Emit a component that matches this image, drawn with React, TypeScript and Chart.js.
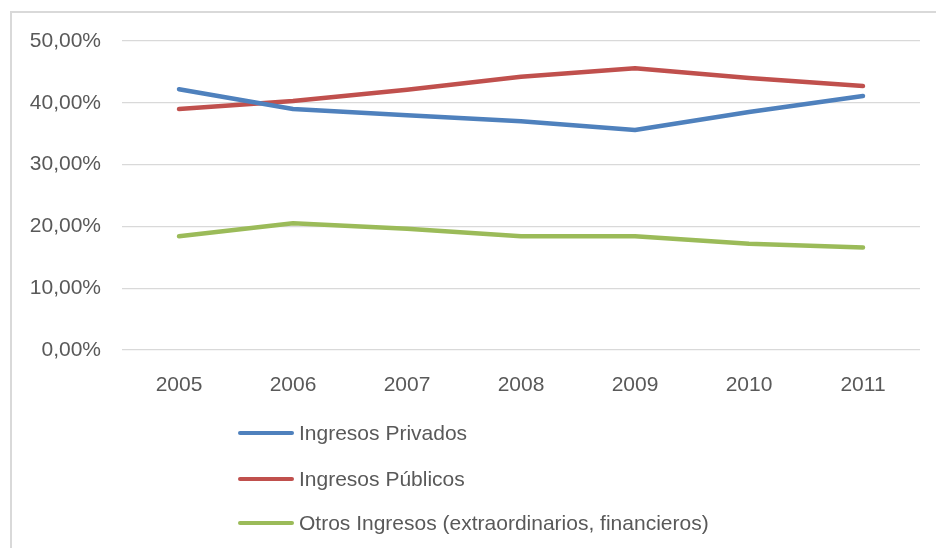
import React, { useEffect, useRef } from "react";
import { Chart, registerables } from "chart.js";

Chart.register(...registerables);

const years = ["2005", "2006", "2007", "2008", "2009", "2010", "2011"];
const privados = [42.2, 39.0, 38.0, 37.0, 35.6, 38.5, 41.1];
const publicos = [39.0, 40.3, 42.1, 44.2, 45.6, 44.0, 42.7];
const otros = [18.4, 20.5, 19.6, 18.4, 18.4, 17.2, 16.6];
const seriesNames = [
  "Ingresos Privados",
  "Ingresos Públicos",
  "Otros Ingresos (extraordinarios, financieros)",
];
const yTicks = [0, 10, 20, 30, 40, 50];

const FONT = "'Liberation Sans', Arial, sans-serif";
const TEXT = "#595959";

const legendPlugin = {
  id: "verticalLegend",
  afterDraw(chart: any) {
    const ctx = chart.ctx;
    const rows = [433, 479, 523];
    ctx.save();
    chart.data.datasets.forEach((ds: any, i: number) => {
      const y = rows[i];
      ctx.strokeStyle = ds.borderColor;
      ctx.lineWidth = 4;
      ctx.lineCap = "round";
      ctx.beginPath();
      ctx.moveTo(240, y);
      ctx.lineTo(292, y);
      ctx.stroke();
      ctx.fillStyle = TEXT;
      ctx.font = `21px ${FONT}`;
      ctx.textBaseline = "middle";
      ctx.textAlign = "left";
      ctx.fillText(ds.label, 299, y + 1);
    });
    ctx.restore();
  },
};

export default function App() {
  const ref = useRef<HTMLCanvasElement>(null);

  useEffect(() => {
    if (!ref.current) return;
    const mk = (label: string, data: number[], color: string) => ({
      label,
      data,
      borderColor: color,
      backgroundColor: color,
      borderWidth: 4.5,
      pointRadius: 0,
      pointHoverRadius: 0,
      tension: 0,
      borderCapStyle: "round" as const,
      borderJoinStyle: "round" as const,
    });
    const chart = new Chart(ref.current, {
      type: "line",
      data: {
        labels: years,
        datasets: [
          mk(seriesNames[0], privados, "#4F81BD"),
          mk(seriesNames[1], publicos, "#C0504D"),
          mk(seriesNames[2], otros, "#9BBB59"),
        ],
      },
      options: {
        animation: false,
        responsive: false,
        maintainAspectRatio: false,
        layout: { padding: { left: 0, top: 41, right: 16, bottom: 148 } },
        plugins: {
          legend: { display: false },
          tooltip: { enabled: false },
        },
        scales: {
          x: {
            offset: true,
            grid: { display: false, drawTicks: false },
            border: { display: false },
            ticks: {
              color: TEXT,
              font: { family: FONT, size: 21 },
              padding: 23,
              maxRotation: 0,
            },
            afterFit(scale: any) {
              scale.height = 50;
            },
          },
          y: {
            min: 0,
            max: 50,
            afterBuildTicks(scale: any) {
              scale.ticks = yTicks.map((v) => ({ value: v }));
            },
            grid: { color: "#d9d9d9", lineWidth: 1.2, drawTicks: false },
            border: { display: false },
            ticks: {
              color: TEXT,
              font: { family: FONT, size: 21 },
              padding: 21,
              callback: (v: any) => Number(v).toFixed(2).replace(".", ",") + "%",
            },
            afterFit(scale: any) {
              scale.width = 122;
            },
          },
        },
      },
      plugins: [legendPlugin],
    });
    return () => chart.destroy();
  }, []);

  return (
    <div
      style={{
        position: "fixed",
        left: 0,
        top: 0,
        width: 936,
        height: 548,
        background: "#fff",
        overflow: "hidden",
      }}
    >
      <div
        style={{
          position: "absolute",
          left: 10,
          top: 11,
          width: 1000,
          height: 700,
          borderLeft: "2px solid #d9d9d9",
          borderTop: "2px solid #d9d9d9",
        }}
      />
      <canvas
        ref={ref}
        width={936}
        height={548}
        style={{ position: "absolute", left: 0, top: 0, width: 936, height: 548 }}
      />
    </div>
  );
}
